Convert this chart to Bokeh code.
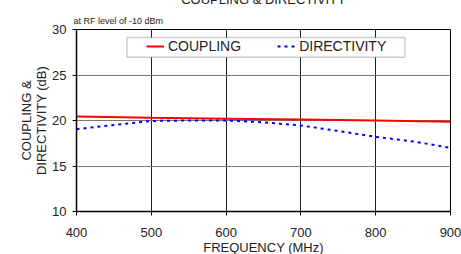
from bokeh.plotting import figure
from bokeh.models import ColumnDataSource, Legend, LegendItem, Title, FixedTicker, BoxAnnotation
from bokeh.embed import file_html
from bokeh.resources import INLINE

freq_coupling = [400, 500, 600, 700, 800, 900]
coupling = [20.45, 20.3, 20.2, 20.1, 20.0, 19.85]

freq_directivity = [400, 450, 500, 550, 600, 650, 700, 750, 800, 850, 900]
directivity = [19.05, 19.5, 19.95, 20.0, 20.0, 19.8, 19.45, 18.85, 18.2, 17.7, 17.0]

x_ticks = [400, 500, 600, 700, 800, 900]
y_ticks = [10, 15, 20, 25, 30]

FONT = "Liberation Sans"

p = figure(width=453, height=271, output_backend="svg", toolbar_location=None,
           x_range=(400, 900), y_range=(10, 30),
           min_border_left=68, min_border_right=11, min_border_top=0, min_border_bottom=0)
p.margin = (-14, 0, 0, 8)
p.background_fill_color = "white"
p.border_fill_color = "white"
p.outline_line_color = "black"
p.outline_line_width = 1

src_c = ColumnDataSource(dict(x=freq_coupling, y=coupling))
src_d = ColumnDataSource(dict(x=freq_directivity, y=directivity))
r1 = p.line("x", "y", source=src_c, line_color="#ff0000", line_width=2)
r2 = p.line("x", "y", source=src_d, line_color="#0000ff", line_width=2, line_dash="3 4")

p.xaxis.ticker = FixedTicker(ticks=x_ticks)
p.yaxis.ticker = FixedTicker(ticks=y_ticks)
for ax in (p.xaxis[0], p.yaxis[0]):
    ax.axis_line_color = "black"
    ax.axis_line_width = 1.5
    ax.major_tick_out = 4
    ax.major_tick_in = 0
    ax.minor_tick_line_color = None
    ax.major_label_text_font = FONT
    ax.major_label_text_font_size = "13px"
    ax.major_label_text_color = "#222222"
    ax.axis_label_text_font = FONT
    ax.axis_label_text_font_size = "13px"
    ax.axis_label_text_font_style = "normal"
    ax.axis_label_text_color = "#222222"
    ax.axis_label_text_line_height = 1.0

p.xaxis.axis_label = "FREQUENCY (MHz)"
p.xaxis.major_label_standoff = 12
p.xaxis.axis_label_standoff = 0
p.yaxis.axis_label = "COUPLING &\nDIRECTIVITY (dB)"
p.yaxis.major_label_standoff = 6
p.yaxis.axis_label_standoff = 0

p.xgrid.grid_line_color = "#222222"
p.xgrid.grid_line_width = 1
p.ygrid.grid_line_color = "#777777"
p.ygrid.grid_line_width = 1

# legend frame
box = BoxAnnotation(left=467.5, right=839, top=29.13, bottom=26.94,
                    fill_color="white", fill_alpha=1,
                    line_color="#555555", line_width=1.5)
p.add_layout(box)

legend = Legend(items=[LegendItem(label="COUPLING", renderers=[r1]),
                       LegendItem(label="DIRECTIVITY", renderers=[r2])],
                orientation="horizontal", location=(70, 157),
                border_line_color=None, background_fill_alpha=0,
                label_text_font=FONT, label_text_font_size="14px", label_text_color="#222222",
                glyph_width=18, glyph_height=14, label_height=14, label_standoff=4,
                spacing=36, padding=3, margin=0)
p.add_layout(legend, "center")

sub = Title(text="at RF level of -10 dBm", align="left", offset=-3,
            text_font=FONT, text_font_size="9px", text_font_style="normal",
            text_color="#222222", standoff=7)
p.add_layout(sub, "above")
main = Title(text="COUPLING & DIRECTIVITY", align="center",
             text_font=FONT, text_font_size="13px", text_font_style="normal",
             text_color="#222222", standoff=7)
p.add_layout(main, "above")

open("out.html", "w").write(file_html(p, INLINE))
